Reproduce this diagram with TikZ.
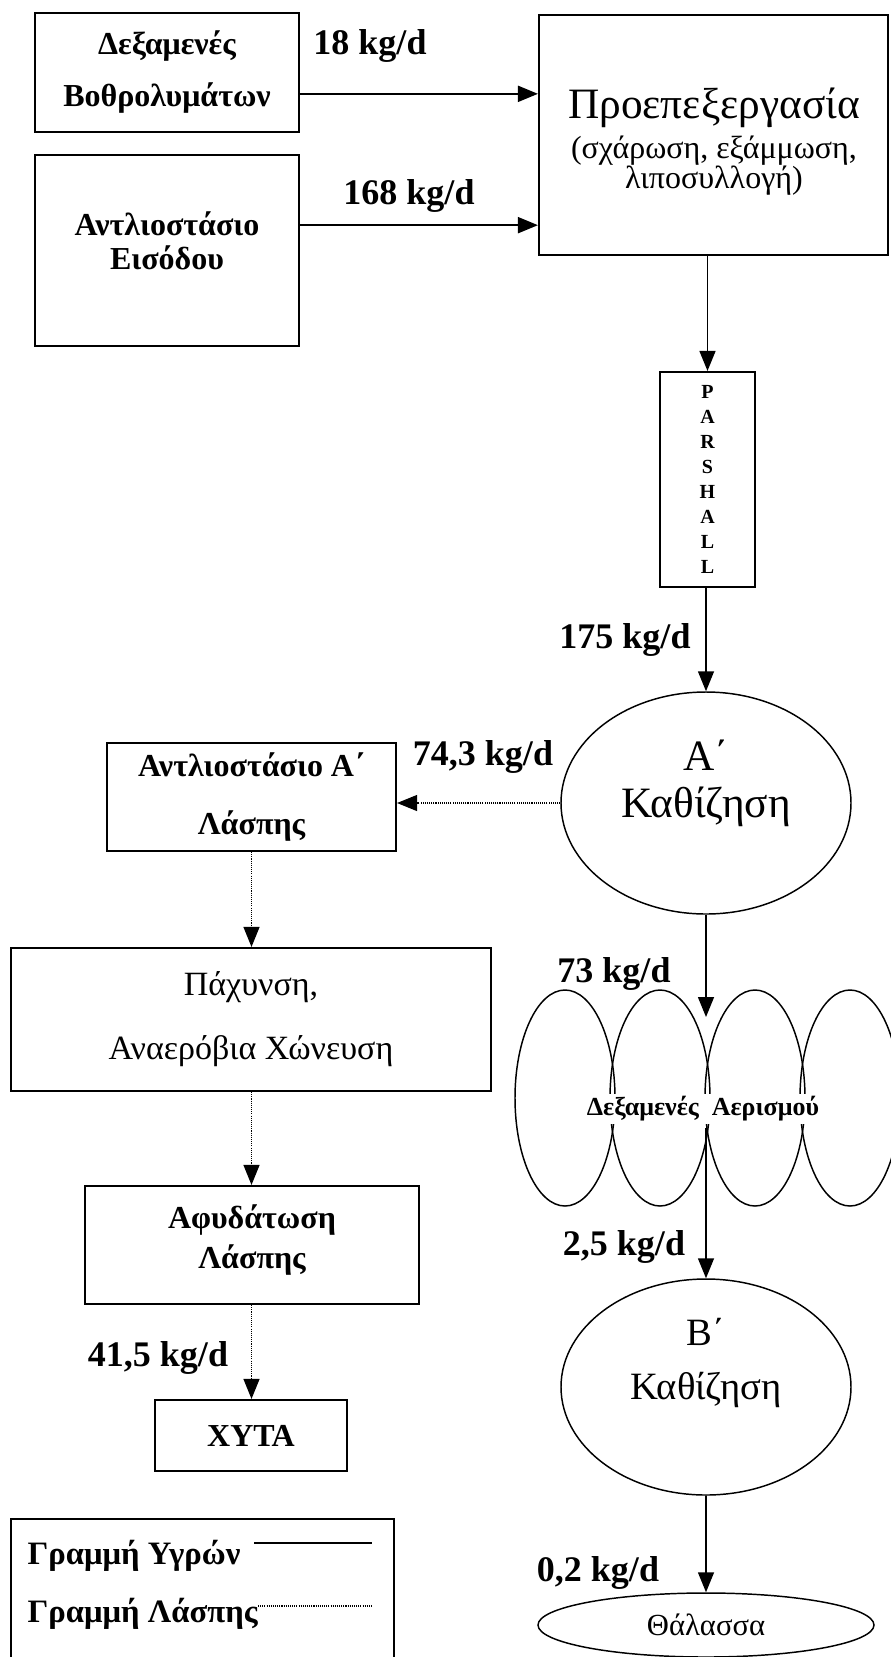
\documentclass[tikz,border=0pt]{standalone}
\usepackage{fontspec}
\setmainfont{Liberation Serif}
\usepackage{tikz}
\usetikzlibrary{arrows.meta,shapes,positioning}

\tikzstyle{unit} = [draw, line width=1.6pt, inner sep=0pt, align=center]
\tikzstyle{tank} = [draw, ellipse, line width=1.1pt, inner sep=0pt]
\tikzstyle{flow} = [font=\fontsize{27}{30}\selectfont\bfseries]
\tikzstyle{liquid} = [line width=1.1pt, -{Triangle[length=15pt,width=12pt]}]
\tikzstyle{sludge} = [line width=0.8pt, dash pattern=on 0.8pt off 0.8pt, -{Triangle[length=15pt,width=12pt]}]

\begin{document}
\begin{tikzpicture}[x=0.75pt, y=-0.75pt]
\useasboundingbox (0,0) rectangle (890,1657);

% inflow units
\node[unit, minimum width=198pt, minimum height=89.25pt, font=\fontsize{24}{39}\selectfont\bfseries] (sept) at (167,72.5) {Δεξαμενές\\Βοθρολυμάτων};
\node[unit, minimum width=198pt, minimum height=143.25pt] (pump) at (167,250.5) {};
\node[align=center, font=\fontsize{24}{25.5}\selectfont\bfseries] (pumptxt) at (167,241) {Αντλιοστάσιο\\Εισόδου};
\node[unit, minimum width=261.75pt, minimum height=180pt] (pre) at (713.5,135) {};
\node[align=center, font=\fontsize{24}{22.5}\selectfont] (pretxt) at (714,142) {{\fontsize{32.5}{32}\selectfont Προεπεξεργασία}\\[5pt](σχάρωση, εξάμμωση,\\λιποσυλλογή)};
\node[unit, minimum width=71.25pt, minimum height=161.25pt, font=\fontsize{15}{18.75}\selectfont\bfseries] (parshall) at (707.5,479.5) {P\\A\\R\\S\\H\\A\\L\\L};

% liquid line
\node[tank, minimum width=217.5pt, minimum height=166.5pt] (sed1) at (706,803) {};
\node[align=center, font=\fontsize{32.5}{35}\selectfont] (sed1txt) at (706,783) {Α΄\\Καθίζηση};
\foreach \i/\x in {1/565,2/660,3/755,4/850}
  \node[tank, minimum width=75pt, minimum height=162pt] (aer\i) at (\x,1098) {};
\node[fill=white, inner sep=2pt, font=\fontsize{19.5}{22}\selectfont\bfseries] (aertxt) at (703,1109) {Δεξαμενές\ \ Αερισμού};
\coordinate (aerin) at (706,1017);
\coordinate (aerout) at (706,1128);
\node[tank, minimum width=217.5pt, minimum height=162pt] (sed2) at (706,1387) {};
\node[align=center, font=\fontsize{29}{40}\selectfont] (sed2txt) at (706,1363) {Β΄\\Καθίζηση};
\node[tank, minimum width=252pt, minimum height=48pt, font=\fontsize{23}{25}\selectfont] (sea) at (706,1625) {Θάλασσα};

% sludge line
\node[unit, minimum width=216.75pt, minimum height=81pt, font=\fontsize{24}{43.5}\selectfont\bfseries] (slpump) at (251.5,797) {Αντλιοστάσιο Α΄\\Λάσπης};
\node[unit, minimum width=360pt, minimum height=107.25pt, font=\fontsize{25.5}{48}\selectfont] (digest) at (251,1019.5) {Πάχυνση,\\Αναερόβια Χώνευση};
\node[unit, minimum width=250.5pt, minimum height=88.5pt] (dewater) at (252,1245) {};
\node[align=center, font=\fontsize{24}{30}\selectfont\bfseries] (dewatertxt) at (252,1240) {Αφυδάτωση\\Λάσπης};
\node[unit, minimum width=144pt, minimum height=53.25pt, font=\fontsize{24}{26}\selectfont\bfseries] (landfill) at (251,1435.5) {ΧΥΤΑ};

% loads
\node[flow] (q1) at (370,46) {18 kg/d};
\node[flow] (q2) at (409,196) {168 kg/d};
\node[flow] (q3) at (625,640) {175 kg/d};
\node[flow] (q4) at (483,757) {74,3 kg/d};
\node[flow] (q5) at (614,974) {73 kg/d};
\node[flow] (q6) at (624,1247) {2,5 kg/d};
\node[flow] (q7) at (158,1358) {41,5 kg/d};
\node[flow] (q8) at (598,1573) {0,2 kg/d};

% connectors
\draw[liquid, line width=1.5pt] ([yshift=-16pt]sept.east) -- ([yshift=-16pt]sept.east -| pre.west);
\draw[liquid, line width=1.5pt] ([yshift=19pt]pump.east) -- ([yshift=19pt]pump.east -| pre.west);
\draw[liquid] (parshall.north |- pre.south) -- (parshall.north);
\draw[liquid] (sed1 |- parshall.south) -- (sed1.north);
\draw[liquid] (sed1.south) -- (aerin);
\draw[liquid] (aerout) -- (sed2.north);
\draw[liquid] (sed2.south) -- (sea.north);
\draw[sludge] (sed1.west) -- (sed1.west -| slpump.east);
\draw[sludge] (slpump.south) -- (slpump.south |- digest.north);
\draw[sludge] (digest.south -| slpump) -- (dewater.north -| slpump);
\draw[sludge] (dewater.south -| slpump) -- (landfill.north -| slpump);

% legend
\draw[line width=1.1pt] (11,1519) rectangle (394,1670);
\node[anchor=west, font=\fontsize{24.5}{26}\selectfont\bfseries] (legliq) at (23,1556) {Γραμμή Υγρών};
\node[anchor=west, font=\fontsize{24.5}{26}\selectfont\bfseries] (legsl) at (23,1614) {Γραμμή Λάσπης};
\coordinate (liqA) at (254,1543);
\coordinate (liqB) at (372,1543);
\coordinate (slA) at (258,1606);
\coordinate (slB) at (372,1606);
\draw[line width=1.1pt] (liqA) -- (liqB);
\draw[line width=0.8pt, dash pattern=on 0.8pt off 0.8pt] (slA) -- (slB);
\end{tikzpicture}
\end{document}
